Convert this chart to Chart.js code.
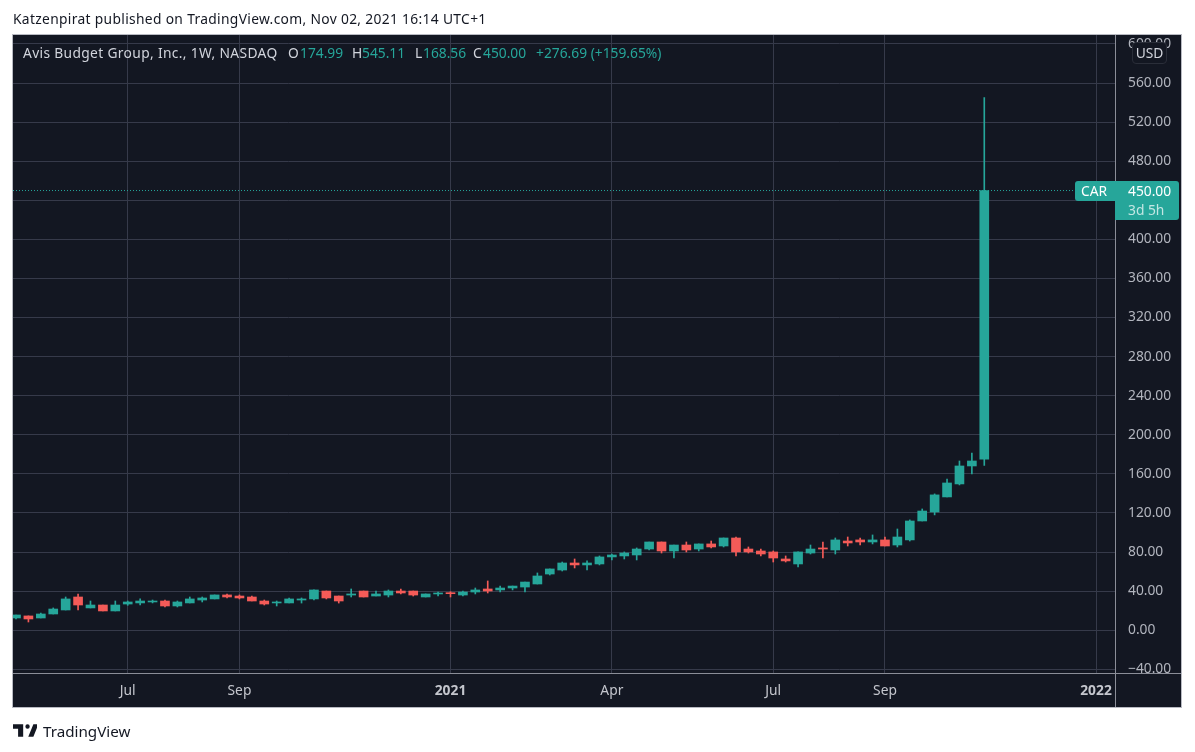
<!DOCTYPE html>
<html>
<head>
<meta charset="utf-8">
<title>CAR weekly</title>
<script src="https://cdn.jsdelivr.net/npm/chart.js@4/dist/chart.umd.min.js"></script>
<style>
  html, body { margin: 0; padding: 0; background: #fff; overflow: hidden; }
  body { width: 1195px; height: 752px; position: relative; font-family: "Noto Sans", sans-serif; }
  canvas { position: absolute; left: 0; top: 0; }
  .txt { position: absolute; white-space: nowrap; font-size: 13.8px; line-height: 16px; }
  #published { left: 13px; top: 11px; color: #131722; letter-spacing: .33px; }
  .lg { top: 45px; color: #d1d4dc; }
  .wide { letter-spacing: .34px; }
  .val { top: 45px; color: #26a69a; }
  #usd { position: absolute; left: 1132px; top: 42px; width: 33px; height: 20px; line-height: 20px; text-align: center;
         background: #131722; border: 1px solid #2a2e39; border-radius: 4px; color: #d1d4dc; font-size: 13.8px; }
  .tag { position: absolute; background: #26a69a; color: #fff; font-size: 13.8px; }
  #tagName { left: 1075px; width: 40px; height: 20px; line-height: 20px; border-radius: 3px 0 0 3px; text-indent: 6px; }
  #tagValue { left: 1115px; width: 64px; height: 39px; border-radius: 0 3px 3px 0; text-indent: 13px; line-height: 20px; }
  #tagValue span { display: block; line-height: 17px; color: rgba(255,255,255,.72); }
  #logo { position: absolute; left: 13px; top: 723px; }
  #brand { left: 43px; top: 723px; font-size: 15.2px; color: #131722; }
</style>
</head>
<body>
<canvas id="chart" width="1195" height="752"></canvas>

<div class="txt" id="published">Katzenpirat published on TradingView.com, Nov 02, 2021 16:14 UTC+1</div>

<div class="txt lg wide" style="left:23px">Avis Budget Group, Inc., 1W, NASDAQ</div>
<div class="txt lg" style="left:288px">O</div><div class="txt val" style="left:300px">174.99</div>
<div class="txt lg" style="left:352px">H</div><div class="txt val" style="left:362px">545.11</div>
<div class="txt lg" style="left:415px">L</div><div class="txt val" style="left:423px">168.56</div>
<div class="txt lg" style="left:473px">C</div><div class="txt val" style="left:483px">450.00</div>
<div class="txt val" style="left:536px">+276.69 (+159.65%)</div>

<div id="usd">USD</div>
<div class="tag" id="tagName">CAR</div>
<div class="tag" id="tagValue">450.00<span>3d 5h</span></div>

<svg id="logo" width="24" height="15" viewBox="0 0 33 17"><path fill="#131722" d="M14 0H0v6h7v11h7V0zm14 17h-7l7-17h7l-7 17zM20 6a3 3 0 1 0 0-6 3 3 0 0 0 0 6z"/></svg>
<div class="txt" id="brand">TradingView</div>

<script>
/* CAR weekly candles — 79 bars */

// ── Data ──────────────────────────────────
const opens  = [12.5,14.6,12.5,16.6,20.7,34.0,22.8,25.8,19.7,26.8,27.9,28.9,29.9,24.8,27.9,30.9,32.0,36.1,35.0,34.0,
                29.9,27.9,27.9,30.9,32.0,40.1,35.0,36.0,40.1,35.0,36.0,40.1,40.1,34.0,37.1,38.4,36.0,39.1,42.2,41.2,
                43.2,44.2,47.3,57.5,61.6,68.8,66.8,67.8,75.0,76.0,77.0,83.1,90.3,81.1,87.2,83.1,88.3,86.2,94.4,83.1,
                81.1,80.1,72.9,67.8,79.0,84.2,82.1,91.3,92.4,90.3,92.4,87.2,92.4,111.8,121.0,136.4,149.7,168.1,174.99];
const closes = [15.6,11.5,16.6,21.7,32.0,25.8,25.8,19.7,25.8,28.9,29.9,29.9,24.8,28.9,32.0,33.0,36.1,34.0,33.0,29.9,
                26.8,28.9,32.0,32.0,41.2,33.0,29.9,37.1,34.0,37.1,40.1,38.1,36.0,37.1,38.1,37.4,39.1,41.2,40.1,43.2,
                45.2,49.3,55.5,62.7,68.8,66.8,68.8,75.0,77.0,79.0,83.1,90.3,81.1,87.2,82.1,88.3,85.2,94.4,80.1,80.1,
                78.0,73.9,70.9,80.1,83.1,83.1,92.4,89.3,90.3,92.4,86.2,95.4,111.8,122.0,138.5,150.7,168.1,173.2,450.0];
const highs  = [15.6,14.6,17.6,22.8,34.0,37.1,29.9,25.8,29.9,29.9,32.0,30.9,30.9,29.9,34.0,34.0,36.1,37.1,36.1,35.0,
                30.9,29.9,33.0,33.0,41.2,40.1,35.0,42.2,40.1,40.1,41.2,42.2,40.1,37.1,39.1,39.4,40.1,43.2,50.4,45.2,
                45.2,49.3,58.6,62.7,69.8,72.9,70.9,76.0,78.0,80.1,84.2,90.3,90.3,87.2,90.3,88.3,91.3,94.4,95.4,85.2,
                83.1,81.1,76.0,80.1,87.2,90.3,94.4,95.4,94.4,97.5,95.4,103.6,112.9,124.1,139.5,154.8,173.2,181.4,545.11];
const lows   = [11.5,8.4,12.5,16.6,20.7,20.7,22.8,19.7,19.7,25.5,25.8,27.9,23.8,23.8,27.9,28.9,32.0,33.0,32.0,29.9,
                25.8,24.8,27.9,27.8,30.9,32.0,27.8,34.0,34.0,35.0,34.0,37.1,35.0,34.0,35.0,34.0,35.0,37.1,38.1,39.1,
                41.2,39.1,47.3,56.5,60.6,63.7,61.6,66.8,71.9,72.9,71.9,82.1,79.0,73.9,80.1,81.1,84.2,85.2,76.0,79.0,
                76.0,69.8,69.8,64.7,78.0,73.9,78.0,86.2,87.2,88.3,86.2,85.2,91.3,111.8,118.0,136.4,148.7,159.9,168.56];
const bars   = opens.map((_, i) => i);

const timeTicks  = [9, 18, 35, 48, 61, 70, 87];
const timeLabels = ["Jul", "Sep", "2021", "Apr", "Jul", "Sep", "2022"];
const priceStep  = 40;
const priceMin   = -43.8;
const priceMax   = 609.2;
const barMin     = -0.242;
const barMax     = 88.53;
const lastPrice  = 450;

// ── Colours ───────────────────────────────
const UP     = "#26a69a";
const DOWN   = "#f45b58";
const PANE   = "#131722";
const GRID   = "#363a4a";
const AXIS   = "#8b8e98";
const FRAME  = "#b8bac2";
const LABEL  = "#b2b5be";

const barColors = opens.map((o, i) => closes[i] >= o ? UP : DOWN);

// ── Frame + clipped axis corner ───────────
const framePlugin = {
  id: "frame",
  beforeDraw(chart) {
    const { ctx, width, height } = chart;
    ctx.save();
    ctx.fillStyle = "#fff";
    ctx.fillRect(0, 0, width, height);
    ctx.fillStyle = PANE;
    ctx.fillRect(13, 35, 1168, 672);
    ctx.restore();
  },
  afterDraw(chart) {
    const { ctx, chartArea: a } = chart;
    ctx.save();
    // price labels stop at the time axis line
    ctx.fillStyle = PANE;
    ctx.fillRect(a.right + 1, a.bottom, 65, 34);
    ctx.strokeStyle = AXIS;
    ctx.lineWidth = 1;
    ctx.beginPath();
    ctx.moveTo(13, a.bottom + .5);
    ctx.lineTo(1181, a.bottom + .5);
    ctx.moveTo(a.right + .5, a.top);
    ctx.lineTo(a.right + .5, 707);
    ctx.stroke();
    ctx.strokeStyle = FRAME;
    ctx.strokeRect(12.5, 34.5, 1169, 673);
    ctx.restore();
  },
};

// ── Chart ─────────────────────────────────
const chart = new Chart(document.getElementById("chart"), {
  type: "bar",
  data: {
    datasets: [
      {
        type: "line",
        data: [{ x: barMin, y: lastPrice }, { x: barMax, y: lastPrice }],
        borderColor: UP,
        borderWidth: 1,
        borderDash: [1, 2],
        pointRadius: 0,
        order: 3,
      },
      {
        data: bars.map(i => ({ x: i, y: [lows[i], highs[i]] })),
        backgroundColor: barColors,
        barThickness: 1,
        grouped: false,
        order: 2,
      },
      {
        data: bars.map(i => ({ x: i, y: [opens[i], closes[i]] })),
        backgroundColor: barColors,
        barThickness: 9,
        grouped: false,
        order: 1,
      },
    ],
  },
  options: {
    responsive: false,
    animation: false,
    layout: { padding: { left: 13, right: 14, top: 35, bottom: 45 } },
    plugins: { legend: { display: false }, tooltip: { enabled: false } },
    scales: {
      x: {
        type: "linear",
        offset: false,
        min: barMin,
        max: barMax,
        afterBuildTicks: s => { s.ticks = timeTicks.map(v => ({ value: v })); },
        afterFit: s => { s.height = 34; },
        border: { display: false },
        grid: { color: GRID, drawTicks: false, offset: false },
        ticks: {
          autoSkip: false,
          maxRotation: 0,
          padding: 10,
          color: "#c4c6cd",
          font: c => ({
            family: "'Noto Sans'",
            size: 13.8,
            weight: /^\d/.test(timeLabels[c.index]) ? "bold" : "normal",
          }),
          callback: (v, i) => timeLabels[i],
        },
      },
      y: {
        position: "right",
        min: priceMin,
        max: priceMax,
        afterFit: s => { s.width = 66; },
        border: { display: false },
        grid: { color: GRID, drawTicks: false },
        ticks: {
          stepSize: priceStep,
          includeBounds: false,
          padding: 13,
          color: LABEL,
          font: { family: "'Noto Sans'", size: 13.8 },
          callback: v => (v < 0 ? "\u2212" + (-v).toFixed(2) : v.toFixed(2)),
        },
      },
    },
  },
  plugins: [framePlugin],
});

// ── Price tag follows the scale ───────────
const tagTop = Math.round(chart.scales.y.getPixelForValue(lastPrice)) - 10;
document.getElementById("tagName").style.top  = tagTop + "px";
document.getElementById("tagValue").style.top = tagTop + "px";
</script>
</body>
</html>
